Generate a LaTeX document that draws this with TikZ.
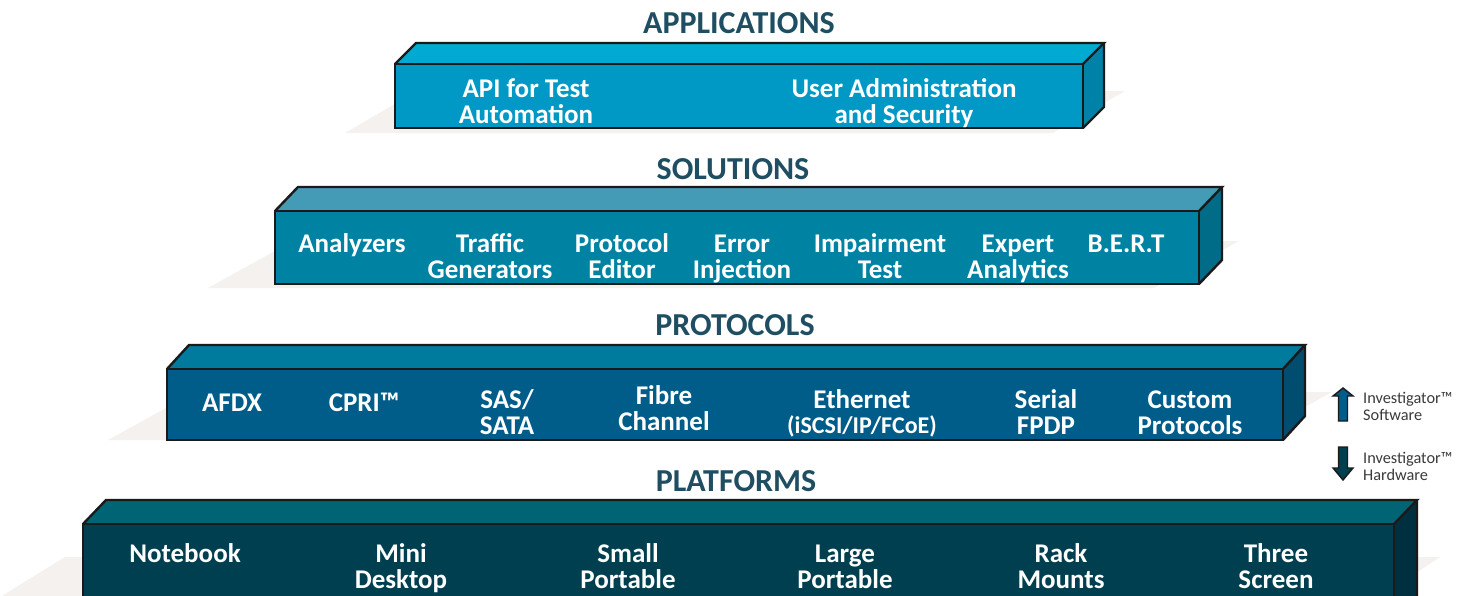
\documentclass[tikz,border=0pt]{standalone}
\usepackage{fontspec}
\setmainfont{Carlito}
\usetikzlibrary{calc}
\begin{document}
\begin{tikzpicture}[x=1pt,y=-1pt,
  title/.style={font=\fontsize{32}{36}\selectfont\bfseries, text=titlecol, inner sep=0pt, anchor=base},
  lbl/.style={font=\fontsize{27}{26}\selectfont\bfseries, text=white, align=center, inner sep=0pt, anchor=base},
  legend/.style={font=\fontsize{16.3}{17}\selectfont, text=legcol, align=left, anchor=base west, inner sep=0pt},
  edge/.style={draw=edgecol, line width=2.4pt, line join=miter},
  shadowfill/.style={fill=shadowcol}
]
\definecolor{titlecol}{HTML}{1F4E63}
\definecolor{legcol}{HTML}{3A3A3A}
\definecolor{edgecol}{HTML}{1A1A1A}
\definecolor{shadowcol}{HTML}{F4F1EE}
\definecolor{aF}{HTML}{0099C6}\definecolor{aT}{HTML}{00AAD0}\definecolor{aS}{HTML}{0082A8}
\definecolor{sF}{HTML}{0082A3}\definecolor{sT}{HTML}{439BB6}\definecolor{sS}{HTML}{006C88}
\definecolor{pF}{HTML}{005C88}\definecolor{pT}{HTML}{007B9E}\definecolor{pS}{HTML}{004D70}
\definecolor{lF}{HTML}{003F50}\definecolor{lT}{HTML}{006474}\definecolor{lS}{HTML}{00303F}
\useasboundingbox (0,0) rectangle (1481,595);
\clip (0,0) rectangle (1481,595);
% slab macro: #1 left, #2 top, #3 right, #4 bottom, #5 dx, #6 dy, #7 front, #8 top, #9 side
\newcommand{\myslab}[9]{%
  \fill[#7] (#1,#2) rectangle (#3,#4);
  \fill[#8] (#1,#2) -- ($(#1,#2)+(#5,-#6)$) -- ($(#3,#2)+(#5,-#6)$) -- (#3,#2) -- cycle;
  \fill[#9] (#3,#2) -- ($(#3,#2)+(#5,-#6)$) -- ($(#3,#4)+(#5,-#6)$) -- (#3,#4) -- cycle;
  \draw[edge] (#1,#2) rectangle (#3,#4);
  \draw[edge] (#1,#2) -- ($(#1,#2)+(#5,-#6)$) -- ($(#3,#2)+(#5,-#6)$) -- (#3,#2);
  \draw[edge] ($(#3,#2)+(#5,-#6)$) -- ($(#3,#4)+(#5,-#6)$) -- (#3,#4);
}
% shadows
\fill[shadowfill] (345,133) -- (1053,133) -- (1125,91) -- (417,91) -- cycle;
\fill[shadowfill] (208,288) -- (1154,288) -- (1239,241) -- (293,241) -- cycle;
\fill[shadowfill] (108,440) -- (1245,440) -- (1332,392) -- (195,392) -- cycle;
\fill[shadowfill] (0,597) -- (1380,597) -- (1440,557) -- (65,557) -- cycle;
% slabs
\myslab{395}{64}{1083}{128}{21}{21}{aF}{aT}{aS}
\myslab{275}{211}{1199}{284}{23}{24}{sF}{sT}{sS}
\myslab{167}{369}{1283}{440}{22}{24}{pF}{pT}{pS}
\myslab{83}{524}{1394}{620}{23}{24}{lF}{lT}{lS}
% titles
\node[title] (tapp) at (739,33) {APPLICATIONS};
\node[title] (tsol) at (733,179) {SOLUTIONS};
\node[title] (tpro) at (735,335) {PROTOCOLS};
\node[title] (tpla) at (736,491) {PLATFORMS};
% applications
\node[lbl] (api) at (526,123) {API for Test\\Automation};
\node[lbl] (uas) at (904,123) {User Administration\\and Security};
% solutions
\node[lbl] (ana) at (352,252) {Analyzers};
\node[lbl] (tg) at (490,278) {Traffic\\Generators};
\node[lbl] (pe) at (622,278) {Protocol\\Editor};
\node[lbl] (ei) at (742,278) {Error\\Injection};
\node[lbl] (it) at (880,278) {Impairment\\Test};
\node[lbl] (ea) at (1018,278) {Expert\\Analytics};
\node[lbl] (bert) at (1126,252) {B.E.R.T};
% protocols
\node[lbl] (afdx) at (232,411) {AFDX};
\node[lbl] (cpri) at (364,411) {CPRI™};
\node[lbl] (sas) at (507,434) {SAS/\\SATA};
\node[lbl] (fc) at (664,430) {Fibre\\Channel};
\node[lbl] (eth) at (862,408) {Ethernet};
\node[lbl, font=\fontsize{24}{26}\selectfont\bfseries] (eth2) at (862,433) {(iSCSI/IP/FCoE)};
\node[lbl] (sf) at (1046,434) {Serial\\FPDP};
\node[lbl] (cp) at (1190,434) {Custom\\Protocols};
% platforms
\node[lbl] (nb) at (185,562) {Notebook};
\node[lbl] (md) at (401,588) {Mini\\Desktop};
\node[lbl] (sp) at (628,588) {Small\\Portable};
\node[lbl] (lp) at (845,588) {Large\\Portable};
\node[lbl] (rm) at (1061,588) {Rack\\Mounts};
\node[lbl] (ts) at (1276,588) {Three\\Screen};
% legend arrows
\draw[fill=pF, draw=edgecol, line width=1.4pt, line join=miter]
  (1343,388) -- (1353,396) -- (1347.5,396) -- (1347.5,421) -- (1338.5,421) -- (1338.5,396) -- (1333,396) -- cycle;
\draw[fill=lF, draw=edgecol, line width=1.4pt, line join=miter]
  (1343,480) -- (1353,468) -- (1347.5,468) -- (1347.5,447) -- (1338.5,447) -- (1338.5,468) -- (1333,468) -- cycle;
\node[legend] (sw) at (1363,420) {Investigator™\\Software};
\node[legend] (hw) at (1363,480) {Investigator™\\Hardware};
\end{tikzpicture}
\end{document}
